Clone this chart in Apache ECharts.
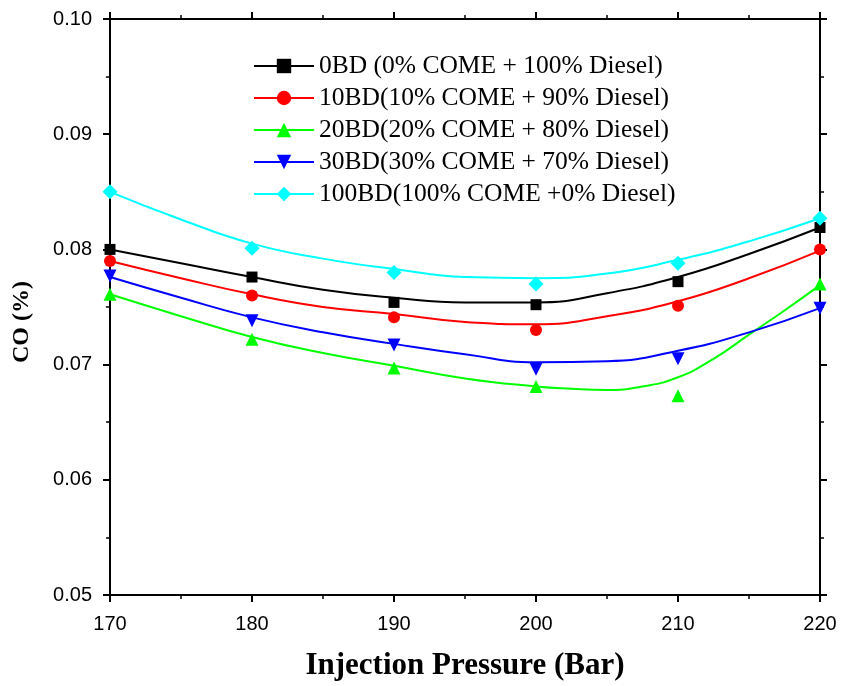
<!DOCTYPE html>
<html>
<head>
<meta charset="utf-8">
<script src="https://cdn.jsdelivr.net/npm/echarts@6/dist/echarts.min.js"></script>
<style>
html,body{margin:0;padding:0;background:#fff;}
#chart{width:841px;height:686px;}
</style>
</head>
<body>
<div id="chart"></div>
<script>
// Measured data points
var pressure = [170, 180, 190, 200, 210, 220];
var co_0BD   = [0.0800, 0.0776, 0.0754, 0.0752, 0.0772, 0.0819];
var co_10BD  = [0.0790, 0.0760, 0.0741, 0.0730, 0.0751, 0.0800];
var co_20BD  = [0.0761, 0.0722, 0.0697, 0.0681, 0.0673, 0.0770];
var co_30BD  = [0.0777, 0.0738, 0.0717, 0.0696, 0.0705, 0.0749];
var co_100BD = [0.0850, 0.0801, 0.0780, 0.0770, 0.0788, 0.0827];

// Fitted curves
var fitX      = [170, 175, 180, 185, 190, 195, 200, 205, 210, 215, 220];
var fit_0BD   = [0.0800, 0.0788, 0.0776, 0.0765, 0.0758, 0.0754, 0.0754, 0.0762, 0.0776, 0.0796, 0.0819];
var fit_10BD  = [0.0790, 0.0775, 0.0761, 0.0750, 0.0744, 0.0737, 0.0735, 0.0742, 0.0755, 0.0775, 0.0799];
var fit_30BD  = [0.0776, 0.0758, 0.0741, 0.0728, 0.0718, 0.0709, 0.0702, 0.0703, 0.0712, 0.0728, 0.0749];
var fit_100BD = [0.0850, 0.0826, 0.0805, 0.0792, 0.0783, 0.0776, 0.0775, 0.0779, 0.0791, 0.0807, 0.0827];
var fitX_20BD = [170, 175, 180, 185, 190, 195, 200, 202.5, 205, 207.5, 210, 212.5, 215, 217.5, 220];
var fit_20BD  = [0.0761, 0.0742, 0.0724, 0.0710, 0.0699, 0.0688, 0.0681, 0.0679, 0.0678, 0.0681, 0.0689, 0.0705, 0.0726, 0.0747, 0.0769];

var seriesNames = [
  '0BD (0% COME + 100% Diesel)',
  '10BD(10% COME + 90% Diesel)',
  '20BD(20% COME + 80% Diesel)',
  '30BD(30% COME + 70% Diesel)',
  '100BD(100% COME +0% Diesel)'
];
var yTickLabels = ['0.05', '0.06', '0.07', '0.08', '0.09', '0.10'];
var xTitle = 'Injection Pressure (Bar)';
var yTitle = 'CO (%)';

var colors = ['#000000', '#ff0000', '#00ff00', '#0000ff', '#00ffff'];
var symbols = ['rect', 'circle', 'triangle', 'triangle', 'diamond'];
var rotates = [0, 0, 0, 180, 0];
var sizes = [11, 12, 13, 13, 15];
var pts = [co_0BD, co_10BD, co_20BD, co_30BD, co_100BD];
var fits = [zipXY(fitX, fit_0BD), zipXY(fitX, fit_10BD), zipXY(fitX_20BD, fit_20BD), zipXY(fitX, fit_30BD), zipXY(fitX, fit_100BD)];

function zipXY(xs, ys) { return xs.map(function (x, i) { return [x, ys[i]]; }); }

var series = [];
for (var i = 0; i < 5; i++) {
  series.push({
    name: seriesNames[i], type: 'line', smooth: 0.5,
    data: fits[i],
    showSymbol: false, symbol: symbols[i], symbolRotate: rotates[i],
    lineStyle: { color: colors[i], width: 2 },
    itemStyle: { color: colors[i] },
    z: 2, silent: true
  });
}
for (var j = 0; j < 5; j++) {
  series.push({
    name: 'pts' + j, type: 'scatter',
    data: zipXY(pressure, pts[j]),
    symbol: symbols[j], symbolRotate: rotates[j], symbolSize: sizes[j],
    itemStyle: { color: colors[j], opacity: 1 },
    z: 3
  });
}

var axisLineStyle = { color: '#000', width: 2 };
var tickStyle = { show: true, inside: false, length: 7, lineStyle: { color: '#000', width: 2 } };
var minorStyle = { show: true, splitNumber: 2, length: 4, lineStyle: { color: '#000', width: 1.5 } };
var chart = echarts.init(document.getElementById('chart'), null, { renderer: 'canvas' });
chart.setOption({
  backgroundColor: '#ffffff',
  animation: false,
  grid: { left: 110, right: 21, top: 19, bottom: 91, containLabel: false },
  legend: {
    data: seriesNames,
    orient: 'vertical',
    left: 248, top: 48,
    itemWidth: 60, itemHeight: 18, itemGap: 6,
    textStyle: { fontFamily: 'Liberation Serif', fontSize: 25.5, color: '#000' },
    selectedMode: false
  },
  graphic: [{
    type: 'text', x: 22, y: 322, rotation: Math.PI / 2,
    style: {
      text: yTitle, fontFamily: 'Liberation Serif', fontWeight: 'bold', fontSize: 24,
      fill: '#000', align: 'center', verticalAlign: 'middle'
    }
  }],
  xAxis: [{
    type: 'value', min: 170, max: 220, interval: 10, position: 'bottom',
    axisLine: { show: true, onZero: false, lineStyle: axisLineStyle },
    axisTick: tickStyle, minorTick: minorStyle,
    splitLine: { show: false },
    axisLabel: { margin: 19, fontFamily: 'Liberation Sans', fontSize: 20, color: '#000' },
    name: xTitle, nameLocation: 'middle', nameGap: 55,
    nameTextStyle: { fontFamily: 'Liberation Serif', fontWeight: 'bold', fontSize: 31, color: '#000' }
  }, {
    type: 'value', min: 170, max: 220, interval: 10, position: 'top',
    axisLine: { show: true, onZero: false, lineStyle: axisLineStyle },
    axisTick: tickStyle, minorTick: minorStyle,
    splitLine: { show: false }, axisLabel: { show: false }
  }],
  yAxis: [{
    type: 'value', min: 0.05, max: 0.10, interval: 0.01, position: 'left',
    axisLine: { show: true, onZero: false, lineStyle: axisLineStyle },
    axisTick: tickStyle, minorTick: minorStyle,
    splitLine: { show: false },
    axisLabel: {
      margin: 18, fontFamily: 'Liberation Sans', fontSize: 20, color: '#000',
      formatter: function (v) { return yTickLabels[Math.round((v - 0.05) / 0.01)]; }
    }
  }, {
    type: 'value', min: 0.05, max: 0.10, interval: 0.01, position: 'right',
    axisLine: { show: true, onZero: false, lineStyle: axisLineStyle },
    axisTick: tickStyle, minorTick: minorStyle,
    splitLine: { show: false }, axisLabel: { show: false }
  }],
  series: series
});
</script>
</body>
</html>
